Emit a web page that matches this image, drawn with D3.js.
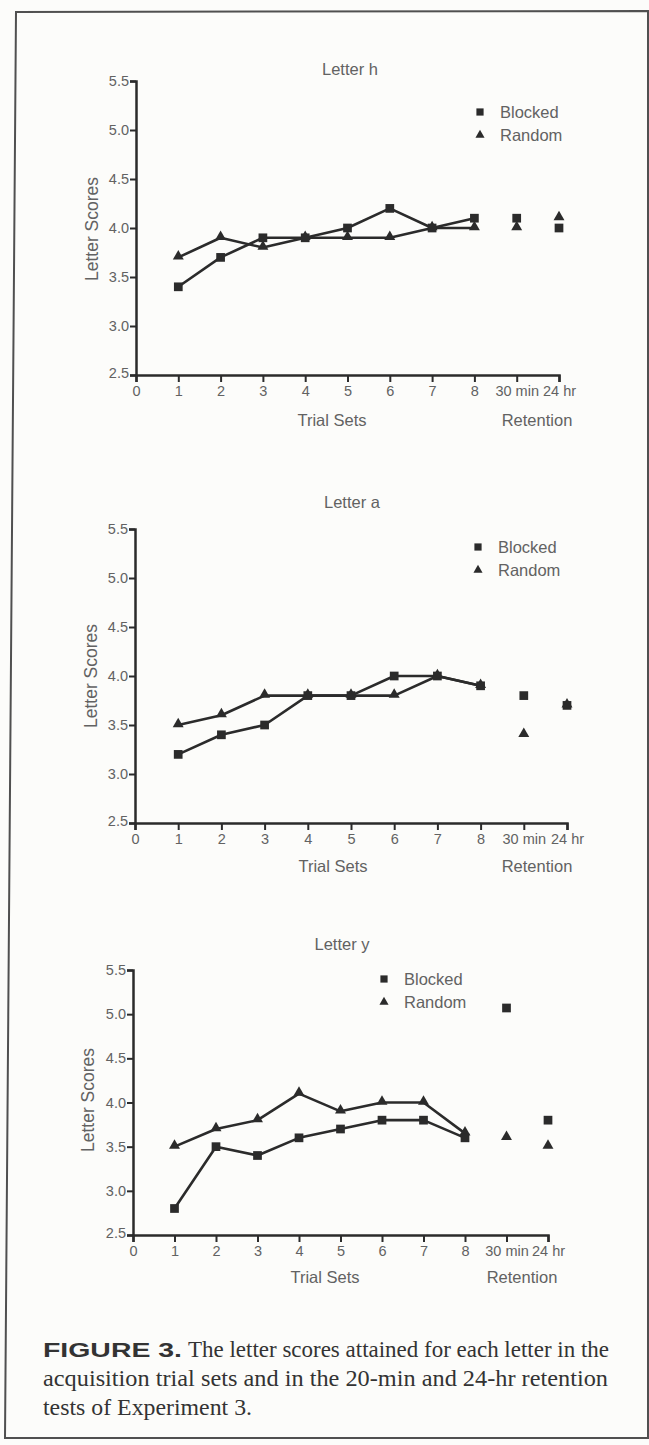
<!DOCTYPE html>
<html>
<head>
<meta charset="utf-8">
<script src="https://cdn.jsdelivr.net/npm/d3@7"></script>
<style>
  html, body { margin: 0; padding: 0; background: #fcfcfa; }
  svg { display: block; }
</style>
</head>
<body>
<div id="frame1"></div>
<script>
// tick labels and x positions (1-8 trial sets, then the two retention tests)
const xTicks = [0, 1, 2, 3, 4, 5, 6, 7, 8, 9, 10];
const xTickLabels = ["0", "1", "2", "3", "4", "5", "6", "7", "8", "30 min", "24 hr"];
const yTicks = [2.5, 3.0, 3.5, 4.0, 4.5, 5.0, 5.5];
const xPos = [1, 2, 3, 4, 5, 6, 7, 8, 9, 10];

// Letter h
const hBlocked = [3.4, 3.7, 3.9, 3.9, 4.0, 4.2, 4.0, 4.1, 4.1, 4.0];
const hRandom  = [3.7, 3.9, 3.8, 3.9, 3.9, 3.9, 4.0, 4.0, 4.0, 4.1];
// Letter a
const aBlocked = [3.2, 3.4, 3.5, 3.8, 3.8, 4.0, 4.0, 3.9, 3.8, 3.7];
const aRandom  = [3.5, 3.6, 3.8, 3.8, 3.8, 3.8, 4.0, 3.9, 3.4, 3.7];
// Letter y
const yBlocked = [2.8, 3.5, 3.4, 3.6, 3.7, 3.8, 3.8, 3.6, 5.07, 3.8];
const yRandom  = [3.5, 3.7, 3.8, 4.1, 3.9, 4.0, 4.0, 3.65, 3.6, 3.5];

const seriesNames = ["Blocked", "Random"];
const captionLines = [
  "The letter scores attained for each letter in the",
  "acquisition trial sets and in the 20-min and 24-hr retention",
  "tests of Experiment 3."
];

const W = 649, H = 1445;
const ink = "#2b2b2b", gray = "#626262";

const svg = d3.select("#frame1")
  .append("svg")
  .attr("width", W)
  .attr("height", H);

// page frame (the scan is slightly skewed)
svg.append("path")
  .attr("d", "M16,12 L648,11 L648,1438 L5,1438 Z")
  .attr("fill", "none")
  .attr("stroke", "#505050")
  .attr("stroke-width", 2);

const panels = [
  {title: "Letter h", blocked: hBlocked, random: hRandom,
   xr: [136, 559], yr: [375, 81], titleY: 69, titleX: 350, ylab: [92, 229],
   xtitleY: 420, trialX: 332, retX: 537, legend: [480, 112]},
  {title: "Letter a", blocked: aBlocked, random: aRandom,
   xr: [135, 567], yr: [823, 529], titleY: 502, titleX: 352, ylab: [91, 676],
   xtitleY: 866, trialX: 333, retX: 537, legend: [478, 547]},
  {title: "Letter y", blocked: yBlocked, random: yRandom,
   xr: [133, 548], yr: [1235, 970], titleY: 944, titleX: 342, ylab: [88, 1100],
   xtitleY: 1277, trialX: 325, retX: 522, legend: [384, 979]}
];

const sq = d3.symbol().type(d3.symbolSquare).size(76);
const tri = d3.symbol().type(d3.symbolTriangle).size(52);

panels.forEach(function (p) {
  const x = d3.scaleLinear().domain([0, 10]).range(p.xr);
  const y = d3.scaleLinear().domain([2.5, 5.5]).range(p.yr);
  const g = svg.append("g");

  // title
  g.append("text")
    .attr("x", p.titleX).attr("y", p.titleY)
    .attr("dy", "0.35em")
    .attr("text-anchor", "middle")
    .attr("font-family", "Liberation Sans, Arial, sans-serif")
    .attr("font-size", 16.5)
    .attr("fill", gray)
    .text(p.title);

  // y axis
  const ya = g.append("g")
    .attr("transform", `translate(${p.xr[0]},0)`)
    .call(d3.axisLeft(y).tickValues(yTicks).tickFormat(d3.format(".1f")).tickSize(6).tickPadding(1));
  // x axis
  const xa = g.append("g")
    .attr("transform", `translate(0,${p.yr[0]})`)
    .call(d3.axisBottom(x).tickValues(xTicks).tickFormat(function (d, i) { return xTickLabels[i]; }).tickSize(7).tickPadding(4));

  [ya, xa].forEach(function (a) {
    a.select(".domain").attr("stroke", ink).attr("stroke-width", 2.5);
    a.selectAll(".tick line").attr("stroke", ink).attr("stroke-width", 2);
    a.selectAll(".tick text")
      .attr("font-family", "Liberation Sans, Arial, sans-serif")
      .attr("font-size", 14.5)
      .attr("fill", gray);
  });
  ya.selectAll(".tick text").filter(function (d) { return d === 2.5; }).attr("dy", "0.15em");

  // axis titles
  g.append("text")
    .attr("transform", `translate(${p.ylab[0]},${p.ylab[1]}) rotate(-90)`)
    .attr("dy", "0.35em")
    .attr("text-anchor", "middle")
    .attr("font-family", "Liberation Sans, Arial, sans-serif")
    .attr("font-size", 17.5)
    .attr("fill", gray)
    .text("Letter Scores");
  g.append("text")
    .attr("x", p.trialX).attr("y", p.xtitleY)
    .attr("dy", "0.35em")
    .attr("text-anchor", "middle")
    .attr("font-family", "Liberation Sans, Arial, sans-serif")
    .attr("font-size", 16.5)
    .attr("fill", gray)
    .text("Trial Sets");
  g.append("text")
    .attr("x", p.retX).attr("y", p.xtitleY)
    .attr("dy", "0.35em")
    .attr("text-anchor", "middle")
    .attr("font-family", "Liberation Sans, Arial, sans-serif")
    .attr("font-size", 16.5)
    .attr("fill", gray)
    .text("Retention");

  // lines (trial sets 1-8 only)
  const line = d3.line()
    .x(function (d) { return x(d[0]); })
    .y(function (d) { return y(d[1]); });
  const rnd = xPos.map(function (v, i) { return [v, p.random[i]]; });
  const blk = xPos.map(function (v, i) { return [v, p.blocked[i]]; });

  [rnd, blk].forEach(function (s) {
    g.append("path")
      .datum(s.slice(0, 8))
      .attr("d", line)
      .attr("fill", "none")
      .attr("stroke", ink)
      .attr("stroke-width", 2.6)
      .attr("stroke-linejoin", "round");
  });

  // markers
  g.append("g").selectAll("path")
    .data(rnd)
    .join("path")
    .attr("transform", function (d) { return `translate(${x(d[0])},${y(d[1]) - 1})`; })
    .attr("d", tri)
    .attr("fill", ink);
  g.append("g").selectAll("path")
    .data(blk)
    .join("path")
    .attr("transform", function (d) { return `translate(${x(d[0])},${y(d[1])})`; })
    .attr("d", sq)
    .attr("fill", ink);

  // legend
  const lg = g.append("g").attr("transform", `translate(${p.legend[0]},${p.legend[1]})`);
  seriesNames.forEach(function (name, i) {
    lg.append("path")
      .attr("transform", `translate(0,${i * 23})`)
      .attr("d", i === 0 ? d3.symbol().type(d3.symbolSquare).size(52)() : d3.symbol().type(d3.symbolTriangle).size(36)())
      .attr("fill", ink);
    lg.append("text")
      .attr("x", 20).attr("y", i * 23)
      .attr("dy", "0.35em")
      .attr("font-family", "Liberation Sans, Arial, sans-serif")
      .attr("font-size", 16.5)
      .attr("fill", gray)
      .text(name);
  });
});

// caption
const cap = svg.append("g");
cap.append("text")
  .attr("x", 43).attr("y", 1357)
  .attr("font-family", "Liberation Sans, Arial, sans-serif")
  .attr("font-weight", "bold")
  .attr("font-size", 20)
  .attr("fill", "#333")
  .attr("textLength", 139)
  .attr("lengthAdjust", "spacingAndGlyphs")
  .text("FIGURE 3.");
const capX = [188, 43, 43];
const capEnd = [609, 608, 252];
const capY = [1357, 1386, 1415];
captionLines.forEach(function (t, i) {
  cap.append("text")
    .attr("x", capX[i]).attr("y", capY[i])
    .attr("font-family", "Liberation Serif, Times New Roman, serif")
    .attr("font-size", 23)
    .attr("fill", "#333")
    .attr("textLength", capEnd[i] - capX[i])
    .attr("lengthAdjust", "spacingAndGlyphs")
    .text(t);
});
</script>
</body>
</html>
